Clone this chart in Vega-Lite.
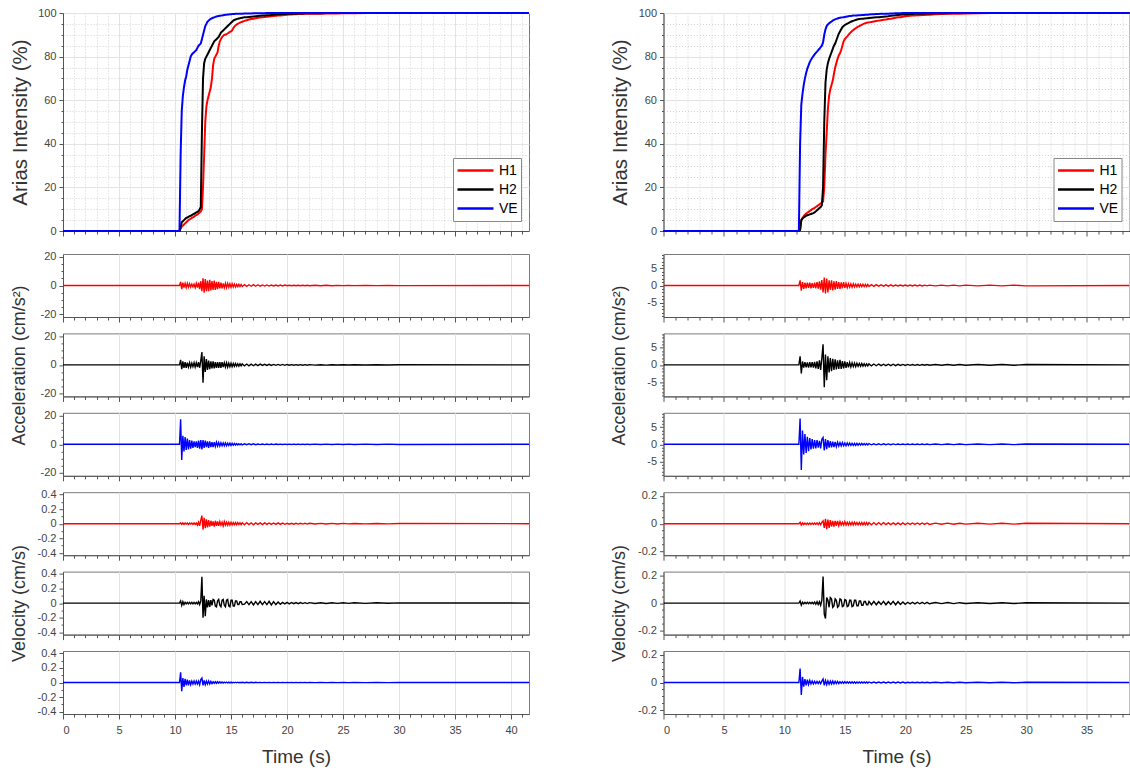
{
"$schema": "https://vega.github.io/schema/vega-lite/v6.json",
"padding": {"left": 9, "top": 6, "right": 0, "bottom": 5},
"datasets": {
"L": [
{"t":0,"H1":0,"H2":0,"VE":0,"a1":0,"a2":0,"a3":0,"v1":0,"v2":0,"v3":0},
{"t":10.4,"H1":0,"H2":0,"VE":0,"a1":0,"a2":0,"a3":0,"v1":0,"v2":0,"v3":0},
{"t":10.5,"H1":1,"H2":2,"VE":35,"a1":2.5,"a2":3.5,"a3":17.5,"v1":0.01,"v2":0.03,"v3":0.14},
{"t":10.6,"H1":2,"H2":4,"VE":55,"a1":-2.5,"a2":-3,"a3":-11,"v1":-0.01,"v2":-0.03,"v3":-0.12},
{"t":10.7,"H1":2.5,"H2":4.5,"VE":62,"a1":2,"a2":2.5,"a3":6,"v1":0.01,"v2":0.02,"v3":0.06},
{"t":10.8,"H1":3,"H2":5,"VE":66,"a1":-1.5,"a2":-2,"a3":-5,"v1":-0.01,"v2":-0.02,"v3":-0.06},
{"t":10.9,"H1":3.5,"H2":5.5,"VE":69,"a1":1.5,"a2":2,"a3":5,"v1":0.01,"v2":0.01,"v3":0.05},
{"t":11.0,"H1":4,"H2":6,"VE":71,"a1":-1.5,"a2":-2,"a3":-4,"v1":-0.005,"v2":-0.01,"v3":-0.04},
{"t":11.1,"H1":4.5,"H2":6.2,"VE":74,"a1":1.5,"a2":1.5,"a3":4,"v1":0.01,"v2":0.01,"v3":0.04},
{"t":11.2,"H1":5,"H2":6.5,"VE":76,"a1":-1.2,"a2":-1.5,"a3":-3.5,"v1":-0.01,"v2":-0.01,"v3":-0.04},
{"t":11.3,"H1":5.3,"H2":6.8,"VE":78,"a1":1.2,"a2":1.5,"a3":3,"v1":0.01,"v2":0.01,"v3":0.03},
{"t":11.4,"H1":5.6,"H2":7,"VE":80,"a1":-1,"a2":-1.5,"a3":-3,"v1":-0.005,"v2":-0.01,"v3":-0.03},
{"t":11.5,"H1":6,"H2":7.3,"VE":81,"a1":1,"a2":1.2,"a3":2.5,"v1":0.01,"v2":0.01,"v3":0.02},
{"t":11.6,"H1":6.3,"H2":7.6,"VE":81.5,"a1":-1,"a2":-1.2,"a3":-2.5,"v1":-0.01,"v2":-0.01,"v3":-0.02},
{"t":11.7,"H1":6.6,"H2":7.9,"VE":82,"a1":1,"a2":1.5,"a3":2,"v1":0.01,"v2":0.01,"v3":0.02},
{"t":11.8,"H1":7,"H2":8.2,"VE":82.5,"a1":-1.5,"a2":-1.5,"a3":-2,"v1":-0.01,"v2":-0.01,"v3":-0.02},
{"t":11.9,"H1":7.3,"H2":8.5,"VE":83,"a1":1.5,"a2":1.5,"a3":2,"v1":0.01,"v2":0.01,"v3":0.02},
{"t":12.0,"H1":7.6,"H2":8.8,"VE":84,"a1":-1.5,"a2":-1.5,"a3":-2.5,"v1":-0.02,"v2":-0.01,"v3":-0.02},
{"t":12.1,"H1":8,"H2":9.2,"VE":85,"a1":2,"a2":2,"a3":2.5,"v1":0.02,"v2":0.02,"v3":0.02},
{"t":12.2,"H1":8.5,"H2":10,"VE":85.5,"a1":-2.5,"a2":-2,"a3":-3,"v1":-0.03,"v2":-0.02,"v3":-0.03},
{"t":12.3,"H1":9,"H2":11,"VE":86,"a1":3,"a2":3,"a3":3,"v1":0.05,"v2":0.03,"v3":0.04},
{"t":12.4,"H1":10,"H2":45,"VE":88,"a1":-4,"a2":9,"a3":-3.5,"v1":0.11,"v2":0.36,"v3":0.06},
{"t":12.5,"H1":20,"H2":70,"VE":90,"a1":5,"a2":-12.5,"a3":3,"v1":-0.08,"v2":-0.2,"v3":-0.04},
{"t":12.6,"H1":35,"H2":77,"VE":92,"a1":-5,"a2":6,"a3":-2.5,"v1":0.08,"v2":0.1,"v3":0.03},
{"t":12.7,"H1":50,"H2":79,"VE":94,"a1":4.5,"a2":-5,"a3":2.5,"v1":-0.06,"v2":-0.18,"v3":-0.03},
{"t":12.8,"H1":57,"H2":80,"VE":95,"a1":-4,"a2":4,"a3":-2,"v1":0.06,"v2":0.05,"v3":0.02},
{"t":12.9,"H1":60,"H2":81,"VE":96,"a1":3.5,"a2":-3.5,"a3":2,"v1":-0.05,"v2":-0.06,"v3":-0.02},
{"t":13.0,"H1":62,"H2":82,"VE":96.5,"a1":-4,"a2":3,"a3":-2.5,"v1":0.05,"v2":0.04,"v3":0.02},
{"t":13.1,"H1":64,"H2":83,"VE":97,"a1":4,"a2":-3,"a3":2,"v1":-0.04,"v2":-0.05,"v3":-0.02},
{"t":13.2,"H1":66,"H2":84,"VE":97.3,"a1":-3.5,"a2":2.5,"a3":-2,"v1":0.04,"v2":0.04,"v3":0.015},
{"t":13.3,"H1":70,"H2":85,"VE":97.6,"a1":3,"a2":-2.5,"a3":1.5,"v1":-0.03,"v2":-0.03,"v3":-0.015},
{"t":13.4,"H1":76,"H2":86,"VE":97.8,"a1":-3,"a2":2.5,"a3":-2,"v1":0.03,"v2":0.05,"v3":0.01},
{"t":13.5,"H1":79,"H2":87,"VE":98,"a1":3.5,"a2":-2.5,"a3":1.5,"v1":-0.04,"v2":0.04,"v3":-0.01},
{"t":13.6,"H1":80,"H2":87.5,"VE":98.2,"a1":-3,"a2":2,"a3":-1.5,"v1":0.04,"v2":-0.04,"v3":0.01},
{"t":13.7,"H1":81,"H2":88,"VE":98.4,"a1":2.5,"a2":-2,"a3":1.5,"v1":-0.03,"v2":-0.05,"v3":-0.01},
{"t":13.8,"H1":82,"H2":88.5,"VE":98.5,"a1":-2.5,"a2":2,"a3":-1.2,"v1":0.03,"v2":0.03,"v3":0.01},
{"t":13.9,"H1":85,"H2":89,"VE":98.6,"a1":2.5,"a2":-2,"a3":1.2,"v1":-0.03,"v2":0.05,"v3":-0.01},
{"t":14.0,"H1":87,"H2":90,"VE":98.7,"a1":-2,"a2":2,"a3":-1.2,"v1":0.03,"v2":-0.03,"v3":0.008},
{"t":14.1,"H1":88,"H2":91,"VE":98.8,"a1":2,"a2":-2,"a3":1,"v1":-0.02,"v2":-0.05,"v3":-0.008},
{"t":14.2,"H1":89,"H2":91.5,"VE":98.9,"a1":-2,"a2":2,"a3":-1,"v1":0.02,"v2":0.04,"v3":0.008},
{"t":14.3,"H1":89.5,"H2":92,"VE":99,"a1":1.5,"a2":-1.5,"a3":1,"v1":-0.03,"v2":0.05,"v3":-0.008},
{"t":14.4,"H1":90,"H2":92.5,"VE":99.1,"a1":-1.5,"a2":1.5,"a3":-1,"v1":0.03,"v2":-0.03,"v3":0.006},
{"t":14.5,"H1":90,"H2":93,"VE":99.2,"a1":1.5,"a2":-1.5,"a3":1,"v1":-0.02,"v2":-0.05,"v3":-0.006},
{"t":14.6,"H1":90.3,"H2":93.5,"VE":99.2,"a1":-1.5,"a2":1.5,"a3":-1,"v1":0.02,"v2":0.04,"v3":0.006},
{"t":14.7,"H1":90.6,"H2":94,"VE":99.3,"a1":1.5,"a2":-1.5,"a3":0.8,"v1":-0.02,"v2":0.05,"v3":-0.006},
{"t":14.8,"H1":91,"H2":94.5,"VE":99.3,"a1":-1.2,"a2":1.2,"a3":-0.8,"v1":0.02,"v2":-0.04,"v3":0.005},
{"t":14.9,"H1":91.3,"H2":95,"VE":99.4,"a1":1.2,"a2":-1.2,"a3":0.8,"v1":-0.02,"v2":-0.05,"v3":-0.005},
{"t":15.0,"H1":91.6,"H2":95.5,"VE":99.4,"a1":-1.2,"a2":1.2,"a3":-0.8,"v1":0.02,"v2":0.04,"v3":0.005},
{"t":15.1,"H1":92,"H2":96,"VE":99.5,"a1":1.2,"a2":-1.2,"a3":0.6,"v1":-0.015,"v2":0.04,"v3":-0.005},
{"t":15.2,"H1":93,"H2":96.5,"VE":99.5,"a1":-1,"a2":1,"a3":-0.6,"v1":0.015,"v2":-0.04,"v3":0.004},
{"t":15.3,"H1":93.8,"H2":96.8,"VE":99.5,"a1":1,"a2":-1,"a3":0.6,"v1":-0.015,"v2":-0.04,"v3":-0.004},
{"t":15.4,"H1":94.3,"H2":97,"VE":99.6,"a1":-1,"a2":1,"a3":-0.5,"v1":0.015,"v2":0.03,"v3":0.004},
{"t":15.5,"H1":94.7,"H2":97.2,"VE":99.6,"a1":0.8,"a2":-0.8,"a3":0.5,"v1":-0.015,"v2":0.03,"v3":-0.004},
{"t":15.6,"H1":95,"H2":97.4,"VE":99.6,"a1":-0.8,"a2":0.8,"a3":-0.5,"v1":0.015,"v2":-0.02,"v3":0.004},
{"t":15.7,"H1":95.3,"H2":97.5,"VE":99.7,"a1":0.8,"a2":-0.8,"a3":0.4,"v1":-0.012,"v2":-0.02,"v3":-0.004},
{"t":15.8,"H1":95.6,"H2":97.6,"VE":99.7,"a1":-0.7,"a2":0.8,"a3":-0.4,"v1":0.012,"v2":0.02,"v3":0.003},
{"t":15.9,"H1":95.8,"H2":97.7,"VE":99.7,"a1":0.7,"a2":-0.7,"a3":0.4,"v1":-0.012,"v2":0.02,"v3":-0.003},
{"t":16.0,"H1":96,"H2":97.8,"VE":99.7,"a1":-0.7,"a2":0.7,"a3":-0.4,"v1":0.012,"v2":-0.02,"v3":0.003},
{"t":16.2,"H1":96.4,"H2":98,"VE":99.8,"a1":0.6,"a2":-0.7,"a3":0.3,"v1":-0.015,"v2":-0.015,"v3":-0.003},
{"t":16.4,"H1":96.7,"H2":98.1,"VE":99.8,"a1":-0.6,"a2":0.6,"a3":-0.3,"v1":0.015,"v2":0.02,"v3":0.003},
{"t":16.6,"H1":97,"H2":98.2,"VE":99.8,"a1":0.5,"a2":-0.6,"a3":0.3,"v1":-0.012,"v2":-0.02,"v3":-0.003},
{"t":16.8,"H1":97.2,"H2":98.3,"VE":99.8,"a1":-0.5,"a2":0.5,"a3":-0.3,"v1":0.012,"v2":0.02,"v3":0.003},
{"t":17.0,"H1":97.4,"H2":98.4,"VE":99.9,"a1":0.6,"a2":-0.6,"a3":0.3,"v1":-0.015,"v2":-0.025,"v3":-0.003},
{"t":17.2,"H1":97.6,"H2":98.5,"VE":99.9,"a1":-0.5,"a2":0.5,"a3":-0.3,"v1":0.012,"v2":0.02,"v3":0.003},
{"t":17.4,"H1":97.8,"H2":98.6,"VE":99.9,"a1":0.5,"a2":-0.5,"a3":0.2,"v1":-0.01,"v2":-0.02,"v3":-0.002},
{"t":17.6,"H1":97.9,"H2":98.7,"VE":99.9,"a1":-0.5,"a2":0.5,"a3":-0.2,"v1":0.01,"v2":0.025,"v3":0.002},
{"t":17.8,"H1":98,"H2":98.8,"VE":99.9,"a1":0.4,"a2":-0.4,"a3":0.2,"v1":-0.012,"v2":-0.02,"v3":-0.002},
{"t":18.0,"H1":98.2,"H2":98.9,"VE":99.9,"a1":-0.4,"a2":0.4,"a3":-0.2,"v1":0.01,"v2":0.02,"v3":0.002},
{"t":18.2,"H1":98.3,"H2":99,"VE":100,"a1":0.4,"a2":-0.4,"a3":0.2,"v1":-0.01,"v2":-0.02,"v3":-0.002},
{"t":18.4,"H1":98.4,"H2":99,"VE":100,"a1":-0.4,"a2":0.4,"a3":-0.2,"v1":0.01,"v2":0.025,"v3":0.002},
{"t":18.6,"H1":98.5,"H2":99.1,"VE":100,"a1":0.3,"a2":-0.4,"a3":0.2,"v1":-0.01,"v2":-0.025,"v3":-0.002},
{"t":18.8,"H1":98.6,"H2":99.2,"VE":100,"a1":-0.3,"a2":0.3,"a3":-0.2,"v1":0.01,"v2":0.02,"v3":0.002},
{"t":19.0,"H1":98.7,"H2":99.3,"VE":100,"a1":0.3,"a2":-0.3,"a3":0.2,"v1":-0.01,"v2":-0.02,"v3":-0.002},
{"t":19.2,"H1":98.8,"H2":99.4,"VE":100,"a1":-0.3,"a2":0.3,"a3":-0.1,"v1":0.012,"v2":0.015,"v3":0.002},
{"t":19.4,"H1":98.9,"H2":99.4,"VE":100,"a1":0.3,"a2":-0.3,"a3":0.1,"v1":-0.01,"v2":-0.015,"v3":-0.002},
{"t":19.6,"H1":99,"H2":99.5,"VE":100,"a1":-0.3,"a2":0.3,"a3":-0.1,"v1":0.008,"v2":0.01,"v3":0.002},
{"t":19.8,"H1":99.1,"H2":99.5,"VE":100,"a1":0.3,"a2":-0.3,"a3":0.1,"v1":-0.008,"v2":-0.01,"v3":-0.002},
{"t":20.0,"H1":99.2,"H2":99.6,"VE":100,"a1":-0.2,"a2":0.3,"a3":-0.1,"v1":0.006,"v2":0.01,"v3":0.002},
{"t":20.2,"H1":99.3,"H2":99.6,"VE":100,"a1":0.2,"a2":-0.2,"a3":0.1,"v1":-0.006,"v2":-0.01,"v3":-0.002},
{"t":20.4,"H1":99.3,"H2":99.7,"VE":100,"a1":-0.2,"a2":0.2,"a3":-0.1,"v1":0.006,"v2":0.008,"v3":0.002},
{"t":20.6,"H1":99.4,"H2":99.7,"VE":100,"a1":0.2,"a2":-0.2,"a3":0.1,"v1":-0.006,"v2":-0.008,"v3":-0.002},
{"t":20.8,"H1":99.4,"H2":99.7,"VE":100,"a1":-0.2,"a2":0.2,"a3":-0.1,"v1":0.005,"v2":0.008,"v3":0.002},
{"t":21.0,"H1":99.5,"H2":99.8,"VE":100,"a1":0.2,"a2":-0.2,"a3":0.1,"v1":-0.005,"v2":-0.008,"v3":-0.002},
{"t":21.2,"H1":99.5,"H2":99.8,"VE":100,"a1":-0.2,"a2":0.2,"a3":-0.1,"v1":0.005,"v2":0.008,"v3":0.002},
{"t":21.4,"H1":99.5,"H2":99.8,"VE":100,"a1":0.2,"a2":-0.2,"a3":0.1,"v1":-0.005,"v2":-0.006,"v3":-0.002},
{"t":21.6,"H1":99.6,"H2":99.9,"VE":100,"a1":-0.2,"a2":0.2,"a3":-0.1,"v1":0.005,"v2":0.006,"v3":0.002},
{"t":21.8,"H1":99.6,"H2":99.9,"VE":100,"a1":0.2,"a2":-0.2,"a3":0.1,"v1":-0.005,"v2":-0.006,"v3":-0.002},
{"t":22.0,"H1":99.6,"H2":99.9,"VE":100,"a1":-0.2,"a2":0.2,"a3":-0.1,"v1":0.005,"v2":0.006,"v3":0.002},
{"t":22.5,"H1":99.7,"H2":99.9,"VE":100,"a1":0.15,"a2":-0.15,"a3":0.1,"v1":-0.004,"v2":-0.005,"v3":-0.002},
{"t":23.0,"H1":99.7,"H2":99.9,"VE":100,"a1":-0.15,"a2":0.15,"a3":-0.1,"v1":0.004,"v2":0.005,"v3":0.002},
{"t":23.5,"H1":99.8,"H2":100,"VE":100,"a1":0.15,"a2":-0.15,"a3":0.1,"v1":-0.004,"v2":-0.005,"v3":-0.002},
{"t":24.0,"H1":99.8,"H2":100,"VE":100,"a1":-0.15,"a2":0.15,"a3":-0.1,"v1":0.004,"v2":0.005,"v3":0.002},
{"t":24.5,"H1":99.8,"H2":100,"VE":100,"a1":0.1,"a2":-0.1,"a3":0.1,"v1":-0.004,"v2":-0.004,"v3":-0.002},
{"t":25.0,"H1":99.9,"H2":100,"VE":100,"a1":-0.1,"a2":0.1,"a3":-0.1,"v1":0.004,"v2":0.004,"v3":0.002},
{"t":25.5,"H1":99.9,"H2":100,"VE":100,"a1":0.1,"a2":-0.1,"a3":0.1,"v1":-0.003,"v2":-0.004,"v3":-0.002},
{"t":26.0,"H1":99.9,"H2":100,"VE":100,"a1":-0.1,"a2":0.1,"a3":-0.1,"v1":0.003,"v2":0.004,"v3":0.002},
{"t":27.0,"H1":100,"H2":100,"VE":100,"a1":0.1,"a2":-0.1,"a3":0.1,"v1":-0.003,"v2":-0.004,"v3":-0.002},
{"t":28.0,"H1":100,"H2":100,"VE":100,"a1":-0.1,"a2":0.1,"a3":-0.1,"v1":0.003,"v2":0.004,"v3":0.002},
{"t":29.0,"H1":100,"H2":100,"VE":100,"a1":0.1,"a2":-0.1,"a3":0.1,"v1":-0.003,"v2":-0.003,"v3":-0.002},
{"t":30.0,"H1":100,"H2":100,"VE":100,"a1":-0.1,"a2":0.1,"a3":-0.1,"v1":0.003,"v2":0.003,"v3":0.002},
{"t":41.6,"H1":100,"H2":100,"VE":100,"a1":0,"a2":0,"a3":0,"v1":0,"v2":0,"v3":0}
],
"R": [
{"t":0,"H1":0,"H2":0,"VE":0,"a1":0,"a2":0,"a3":0,"v1":0,"v2":0,"v3":0},
{"t":11.2,"H1":0,"H2":0,"VE":0,"a1":0,"a2":0,"a3":0,"v1":0,"v2":0,"v3":0},
{"t":11.3,"H1":0.5,"H2":0.5,"VE":40,"a1":1.5,"a2":2.5,"a3":7.5,"v1":0.01,"v2":0.015,"v3":0.1},
{"t":11.4,"H1":5,"H2":5,"VE":58,"a1":-1.5,"a2":-2.5,"a3":-7.5,"v1":-0.01,"v2":-0.015,"v3":-0.09},
{"t":11.5,"H1":6,"H2":5.8,"VE":63,"a1":1,"a2":1,"a3":4,"v1":0.006,"v2":0.006,"v3":0.04},
{"t":11.6,"H1":6.8,"H2":6.2,"VE":67,"a1":-1,"a2":-0.8,"a3":-3,"v1":-0.006,"v2":-0.006,"v3":-0.03},
{"t":11.7,"H1":7.5,"H2":6.6,"VE":70,"a1":0.8,"a2":0.8,"a3":3,"v1":0.005,"v2":0.005,"v3":0.025},
{"t":11.8,"H1":8,"H2":7,"VE":72.5,"a1":-0.8,"a2":-0.7,"a3":-2.5,"v1":-0.005,"v2":-0.005,"v3":-0.02},
{"t":11.9,"H1":8.4,"H2":7.2,"VE":74.5,"a1":0.8,"a2":0.7,"a3":2.2,"v1":0.005,"v2":0.005,"v3":0.02},
{"t":12.0,"H1":8.8,"H2":7.4,"VE":76,"a1":-0.7,"a2":-0.8,"a3":-2,"v1":-0.005,"v2":-0.005,"v3":-0.015},
{"t":12.1,"H1":9.2,"H2":7.6,"VE":77.5,"a1":0.8,"a2":0.8,"a3":1.8,"v1":0.005,"v2":0.005,"v3":0.015},
{"t":12.2,"H1":9.6,"H2":7.8,"VE":78.5,"a1":-0.8,"a2":-0.7,"a3":-1.5,"v1":-0.005,"v2":-0.005,"v3":-0.01},
{"t":12.3,"H1":10,"H2":8,"VE":79.5,"a1":0.7,"a2":0.8,"a3":1.5,"v1":0.005,"v2":0.005,"v3":0.01},
{"t":12.4,"H1":10.3,"H2":8.2,"VE":80.2,"a1":-0.7,"a2":-0.8,"a3":-1.3,"v1":-0.005,"v2":-0.005,"v3":-0.01},
{"t":12.5,"H1":10.6,"H2":8.5,"VE":81,"a1":0.8,"a2":0.9,"a3":1.2,"v1":0.005,"v2":0.008,"v3":0.008},
{"t":12.6,"H1":11,"H2":9,"VE":81.7,"a1":-0.8,"a2":-1,"a3":-1.2,"v1":-0.005,"v2":-0.008,"v3":-0.008},
{"t":12.7,"H1":11.4,"H2":9.5,"VE":82.3,"a1":1,"a2":1,"a3":1.2,"v1":0.006,"v2":0.01,"v3":0.008},
{"t":12.8,"H1":11.8,"H2":10,"VE":83,"a1":-0.9,"a2":-1.2,"a3":-1,"v1":-0.006,"v2":-0.01,"v3":-0.008},
{"t":12.9,"H1":12.2,"H2":10.5,"VE":83.6,"a1":1.2,"a2":1.3,"a3":1,"v1":0.008,"v2":0.01,"v3":0.008},
{"t":13.0,"H1":12.6,"H2":11,"VE":84.3,"a1":-1.2,"a2":-1.5,"a3":-1.2,"v1":-0.008,"v2":-0.015,"v3":-0.008},
{"t":13.1,"H1":13,"H2":11.8,"VE":85,"a1":1.6,"a2":2,"a3":1.5,"v1":0.01,"v2":0.02,"v3":0.01},
{"t":13.2,"H1":13.5,"H2":20,"VE":86.5,"a1":-2,"a2":6,"a3":2,"v1":0.02,"v2":0.19,"v3":0.025},
{"t":13.3,"H1":20,"H2":50,"VE":90,"a1":2.3,"a2":-6.5,"a3":-1.8,"v1":-0.03,"v2":-0.08,"v3":-0.02},
{"t":13.4,"H1":35,"H2":68,"VE":92.5,"a1":-2.3,"a2":3,"a3":1.5,"v1":0.035,"v2":-0.11,"v3":0.015},
{"t":13.5,"H1":45,"H2":74,"VE":94,"a1":2,"a2":-4.5,"a3":-1.4,"v1":-0.04,"v2":0.04,"v3":-0.015},
{"t":13.6,"H1":56,"H2":77,"VE":94.8,"a1":-2,"a2":2.5,"a3":1.2,"v1":0.03,"v2":0.02,"v3":0.012},
{"t":13.7,"H1":62,"H2":79,"VE":95.3,"a1":1.5,"a2":-2.2,"a3":-1,"v1":-0.03,"v2":-0.03,"v3":-0.012},
{"t":13.8,"H1":65,"H2":80.5,"VE":95.7,"a1":-1.3,"a2":2,"a3":0.9,"v1":0.025,"v2":0.04,"v3":0.01},
{"t":13.9,"H1":67,"H2":82,"VE":96.1,"a1":1.5,"a2":-1.8,"a3":-0.9,"v1":-0.02,"v2":0.03,"v3":-0.01},
{"t":14.0,"H1":69,"H2":83.5,"VE":96.5,"a1":-1.4,"a2":1.8,"a3":0.8,"v1":0.02,"v2":-0.03,"v3":0.01},
{"t":14.1,"H1":72,"H2":85,"VE":96.8,"a1":1.2,"a2":-1.5,"a3":-0.8,"v1":-0.02,"v2":-0.02,"v3":-0.01},
{"t":14.2,"H1":75,"H2":86,"VE":97.1,"a1":-1.2,"a2":1.6,"a3":0.7,"v1":0.02,"v2":0.03,"v3":0.008},
{"t":14.3,"H1":77,"H2":87.5,"VE":97.3,"a1":1.3,"a2":-1.3,"a3":-0.7,"v1":-0.015,"v2":0.02,"v3":-0.008},
{"t":14.4,"H1":79,"H2":89,"VE":97.5,"a1":-1,"a2":1.3,"a3":0.6,"v1":0.02,"v2":-0.03,"v3":0.008},
{"t":14.5,"H1":80.5,"H2":90.5,"VE":97.7,"a1":1,"a2":-1.2,"a3":-0.5,"v1":-0.015,"v2":-0.02,"v3":-0.008},
{"t":14.6,"H1":81.5,"H2":91.5,"VE":97.8,"a1":-1,"a2":1.5,"a3":0.5,"v1":0.015,"v2":0.03,"v3":0.006},
{"t":14.7,"H1":83,"H2":92.5,"VE":97.9,"a1":0.9,"a2":-1.2,"a3":-0.5,"v1":-0.01,"v2":0.025,"v3":-0.006},
{"t":14.8,"H1":85,"H2":93.5,"VE":98,"a1":-0.8,"a2":1.1,"a3":0.5,"v1":0.01,"v2":-0.025,"v3":0.006},
{"t":14.9,"H1":87,"H2":94,"VE":98.1,"a1":1,"a2":-1,"a3":-0.4,"v1":-0.01,"v2":-0.02,"v3":-0.006},
{"t":15.0,"H1":88,"H2":94.5,"VE":98.2,"a1":-0.7,"a2":1,"a3":0.4,"v1":0.015,"v2":0.025,"v3":0.006},
{"t":15.1,"H1":88.7,"H2":94.8,"VE":98.3,"a1":0.6,"a2":-0.9,"a3":-0.4,"v1":-0.01,"v2":0.02,"v3":-0.005},
{"t":15.2,"H1":89.3,"H2":95.1,"VE":98.4,"a1":-0.6,"a2":0.8,"a3":0.4,"v1":0.01,"v2":-0.025,"v3":0.005},
{"t":15.3,"H1":90,"H2":95.4,"VE":98.5,"a1":0.5,"a2":-0.7,"a3":-0.35,"v1":-0.01,"v2":-0.02,"v3":-0.005},
{"t":15.4,"H1":90.6,"H2":95.7,"VE":98.6,"a1":-0.5,"a2":0.7,"a3":0.35,"v1":0.01,"v2":0.02,"v3":0.005},
{"t":15.5,"H1":91.2,"H2":96,"VE":98.6,"a1":0.5,"a2":-0.6,"a3":-0.3,"v1":-0.01,"v2":0.02,"v3":-0.005},
{"t":15.6,"H1":91.7,"H2":96.2,"VE":98.7,"a1":-0.5,"a2":0.6,"a3":0.3,"v1":0.01,"v2":-0.025,"v3":0.005},
{"t":15.7,"H1":92.2,"H2":96.4,"VE":98.8,"a1":0.5,"a2":-0.5,"a3":-0.3,"v1":-0.01,"v2":-0.02,"v3":-0.005},
{"t":15.8,"H1":92.6,"H2":96.6,"VE":98.8,"a1":-0.4,"a2":0.5,"a3":0.3,"v1":0.01,"v2":0.02,"v3":0.005},
{"t":15.9,"H1":93,"H2":96.8,"VE":98.9,"a1":0.4,"a2":-0.5,"a3":-0.3,"v1":-0.008,"v2":0.02,"v3":-0.005},
{"t":16.0,"H1":93.4,"H2":97,"VE":98.9,"a1":-0.4,"a2":0.5,"a3":0.3,"v1":0.008,"v2":-0.02,"v3":0.004},
{"t":16.1,"H1":93.7,"H2":97.1,"VE":99,"a1":0.4,"a2":-0.4,"a3":-0.25,"v1":-0.008,"v2":-0.02,"v3":-0.004},
{"t":16.2,"H1":94,"H2":97.2,"VE":99,"a1":-0.4,"a2":0.4,"a3":0.25,"v1":0.008,"v2":0.015,"v3":0.004},
{"t":16.3,"H1":94.3,"H2":97.3,"VE":99,"a1":0.35,"a2":-0.4,"a3":-0.25,"v1":-0.008,"v2":0.015,"v3":-0.004},
{"t":16.4,"H1":94.6,"H2":97.4,"VE":99.1,"a1":-0.35,"a2":0.4,"a3":0.25,"v1":0.008,"v2":-0.015,"v3":0.004},
{"t":16.5,"H1":94.9,"H2":97.4,"VE":99.1,"a1":0.35,"a2":-0.35,"a3":-0.2,"v1":-0.008,"v2":-0.015,"v3":-0.004},
{"t":16.6,"H1":95.1,"H2":97.5,"VE":99.1,"a1":-0.3,"a2":0.35,"a3":0.2,"v1":0.008,"v2":0.012,"v3":0.004},
{"t":16.7,"H1":95.3,"H2":97.5,"VE":99.2,"a1":0.3,"a2":-0.35,"a3":-0.2,"v1":-0.008,"v2":0.012,"v3":-0.004},
{"t":16.8,"H1":95.5,"H2":97.6,"VE":99.2,"a1":-0.3,"a2":0.3,"a3":0.2,"v1":0.008,"v2":-0.012,"v3":0.004},
{"t":16.9,"H1":95.6,"H2":97.6,"VE":99.2,"a1":0.3,"a2":-0.3,"a3":-0.2,"v1":-0.008,"v2":-0.012,"v3":-0.004},
{"t":17.0,"H1":95.7,"H2":97.7,"VE":99.3,"a1":-0.3,"a2":0.3,"a3":0.2,"v1":0.008,"v2":0.012,"v3":0.004},
{"t":17.2,"H1":95.9,"H2":97.8,"VE":99.4,"a1":0.25,"a2":-0.3,"a3":-0.15,"v1":-0.008,"v2":-0.012,"v3":-0.003},
{"t":17.4,"H1":96.1,"H2":97.9,"VE":99.4,"a1":-0.25,"a2":0.25,"a3":0.15,"v1":0.008,"v2":0.012,"v3":0.003},
{"t":17.6,"H1":96.3,"H2":98,"VE":99.5,"a1":0.25,"a2":-0.25,"a3":-0.15,"v1":-0.008,"v2":-0.012,"v3":-0.003},
{"t":17.8,"H1":96.5,"H2":98.1,"VE":99.5,"a1":-0.2,"a2":0.25,"a3":0.15,"v1":0.008,"v2":0.01,"v3":0.003},
{"t":18.0,"H1":96.7,"H2":98.2,"VE":99.6,"a1":0.2,"a2":-0.2,"a3":-0.15,"v1":-0.008,"v2":-0.01,"v3":-0.003},
{"t":18.2,"H1":96.9,"H2":98.3,"VE":99.6,"a1":-0.2,"a2":0.2,"a3":0.15,"v1":0.008,"v2":0.012,"v3":0.003},
{"t":18.4,"H1":97,"H2":98.4,"VE":99.7,"a1":0.2,"a2":-0.2,"a3":-0.12,"v1":-0.006,"v2":-0.012,"v3":-0.003},
{"t":18.6,"H1":97.2,"H2":98.5,"VE":99.7,"a1":-0.2,"a2":0.2,"a3":0.12,"v1":0.006,"v2":0.01,"v3":0.003},
{"t":18.8,"H1":97.4,"H2":98.7,"VE":99.8,"a1":0.2,"a2":-0.2,"a3":-0.12,"v1":-0.006,"v2":-0.01,"v3":-0.003},
{"t":19.0,"H1":97.6,"H2":98.8,"VE":99.8,"a1":-0.2,"a2":0.2,"a3":0.12,"v1":0.006,"v2":0.012,"v3":0.003},
{"t":19.2,"H1":97.8,"H2":99,"VE":99.9,"a1":0.15,"a2":-0.2,"a3":-0.1,"v1":-0.006,"v2":-0.012,"v3":-0.003},
{"t":19.4,"H1":98,"H2":99.1,"VE":99.9,"a1":-0.15,"a2":0.15,"a3":0.1,"v1":0.006,"v2":0.01,"v3":0.003},
{"t":19.6,"H1":98.1,"H2":99.2,"VE":99.9,"a1":0.15,"a2":-0.15,"a3":-0.1,"v1":-0.006,"v2":-0.01,"v3":-0.003},
{"t":19.8,"H1":98.3,"H2":99.3,"VE":100,"a1":-0.15,"a2":0.15,"a3":0.1,"v1":0.006,"v2":0.008,"v3":0.003},
{"t":20.0,"H1":98.5,"H2":99.3,"VE":100,"a1":0.15,"a2":-0.15,"a3":-0.1,"v1":-0.006,"v2":-0.008,"v3":-0.003},
{"t":20.2,"H1":98.6,"H2":99.4,"VE":100,"a1":-0.15,"a2":0.15,"a3":0.1,"v1":0.005,"v2":0.006,"v3":0.002},
{"t":20.4,"H1":98.7,"H2":99.5,"VE":100,"a1":0.12,"a2":-0.12,"a3":-0.1,"v1":-0.005,"v2":-0.006,"v3":-0.002},
{"t":20.6,"H1":98.8,"H2":99.5,"VE":100,"a1":-0.12,"a2":0.12,"a3":0.1,"v1":0.005,"v2":0.006,"v3":0.002},
{"t":20.8,"H1":98.9,"H2":99.6,"VE":100,"a1":0.12,"a2":-0.12,"a3":-0.1,"v1":-0.005,"v2":-0.006,"v3":-0.002},
{"t":21.0,"H1":99,"H2":99.6,"VE":100,"a1":-0.12,"a2":0.12,"a3":0.1,"v1":0.005,"v2":0.006,"v3":0.002},
{"t":21.2,"H1":99,"H2":99.7,"VE":100,"a1":0.12,"a2":-0.12,"a3":-0.1,"v1":-0.005,"v2":-0.005,"v3":-0.002},
{"t":21.4,"H1":99.1,"H2":99.7,"VE":100,"a1":-0.12,"a2":0.12,"a3":0.1,"v1":0.005,"v2":0.005,"v3":0.002},
{"t":21.6,"H1":99.1,"H2":99.8,"VE":100,"a1":0.1,"a2":-0.1,"a3":-0.1,"v1":-0.005,"v2":-0.005,"v3":-0.002},
{"t":21.8,"H1":99.2,"H2":99.8,"VE":100,"a1":-0.1,"a2":0.1,"a3":0.1,"v1":0.005,"v2":0.005,"v3":0.002},
{"t":22.0,"H1":99.2,"H2":99.8,"VE":100,"a1":0.1,"a2":-0.1,"a3":-0.1,"v1":-0.005,"v2":-0.005,"v3":-0.002},
{"t":22.5,"H1":99.4,"H2":99.9,"VE":100,"a1":-0.1,"a2":0.1,"a3":0.1,"v1":0.004,"v2":0.004,"v3":0.002},
{"t":23.0,"H1":99.5,"H2":99.9,"VE":100,"a1":0.1,"a2":-0.1,"a3":-0.1,"v1":-0.004,"v2":-0.004,"v3":-0.002},
{"t":23.5,"H1":99.6,"H2":99.9,"VE":100,"a1":-0.1,"a2":0.1,"a3":0.1,"v1":0.004,"v2":0.004,"v3":0.002},
{"t":24.0,"H1":99.7,"H2":100,"VE":100,"a1":0.1,"a2":-0.1,"a3":-0.1,"v1":-0.004,"v2":-0.004,"v3":-0.002},
{"t":24.5,"H1":99.7,"H2":100,"VE":100,"a1":-0.1,"a2":0.1,"a3":0.1,"v1":0.003,"v2":0.003,"v3":0.002},
{"t":25.0,"H1":99.8,"H2":100,"VE":100,"a1":0.1,"a2":-0.1,"a3":-0.1,"v1":-0.003,"v2":-0.003,"v3":-0.002},
{"t":26.0,"H1":99.9,"H2":100,"VE":100,"a1":-0.1,"a2":0.1,"a3":0.1,"v1":0.003,"v2":0.003,"v3":0.002},
{"t":27.0,"H1":100,"H2":100,"VE":100,"a1":0.1,"a2":-0.1,"a3":-0.1,"v1":-0.003,"v2":-0.003,"v3":-0.002},
{"t":28.0,"H1":100,"H2":100,"VE":100,"a1":-0.1,"a2":0.1,"a3":0.1,"v1":0.003,"v2":0.003,"v3":0.002},
{"t":29.0,"H1":100,"H2":100,"VE":100,"a1":0.1,"a2":-0.1,"a3":-0.1,"v1":-0.003,"v2":-0.003,"v3":-0.002},
{"t":30.0,"H1":100,"H2":100,"VE":100,"a1":-0.1,"a2":0.1,"a3":0.1,"v1":0.003,"v2":0.003,"v3":0.002},
{"t":38.55,"H1":100,"H2":100,"VE":100,"a1":0,"a2":0,"a3":0,"v1":0,"v2":0,"v3":0}
]
},
"bounds": "full",
"spacing": 75.5,
"resolve": {"scale": {"color": "independent"}, "legend": {"color": "independent"}},
"hconcat": [
{
"bounds": "flush", "spacing": 23,
"resolve": {"scale": {"color": "independent"}, "legend": {"color": "independent"}},
"vconcat": [
{"width": 466, "height": 218, "data": {"name": "L"},
 "layer": [
  {"mark": {"type": "line", "opacity": 0},
   "encoding": {
    "x": {"field": "t", "type": "quantitative", "scale": {"domain": [0, 41.6], "nice": false, "zero": false}, "axis": {"orient": "bottom", "values": [1,2,3,4,6,7,8,9,11,12,13,14,16,17,18,19,21,22,23,24,26,27,28,29,31,32,33,34,36,37,38,39,41], "labels": false, "domain": false, "tickSize": 3, "grid": true, "gridDash": [1,2], "gridColor": "#d2d2d2", "title": null}},
    "y": {"field": "H1", "type": "quantitative", "scale": {"domain": [0, 100], "nice": false}, "axis": {"orient": "left", "values": [5,10,15,25,30,35,45,50,55,65,70,75,85,90,95], "labels": false, "domain": false, "tickSize": 2, "grid": true, "gridDash": [1,2], "gridColor": "#d2d2d2", "title": null}}}},
  {"transform": [{"fold": ["H1", "H2", "VE"], "as": ["ch", "val"]}],
   "mark": {"type": "line", "strokeWidth": 2},
   "encoding": {
    "x": {"field": "t", "type": "quantitative", "scale": {"domain": [0, 41.6], "nice": false, "zero": false}, "axis": {"orient": "bottom", "values": [0,5,10,15,20,25,30,35,40], "labels": false, "tickSize": 5, "grid": true, "title": null}},
    "y": {"field": "val", "type": "quantitative", "scale": {"domain": [0, 100], "nice": false}, "axis": {"orient": "left", "values": [0,20,40,60,80,100], "tickSize": 4, "grid": true, "format": ".2~f", "title": "Arias Intensity (%)", "titleFontSize": 20.5, "titleX": -33}},
    "color": {"field": "ch", "type": "nominal", "scale": {"domain": ["H1", "H2", "VE"], "range": ["#ff0000", "#000000", "#0000ff"]},
      "legend": {"orient": "none", "legendX": 390, "legendY": 145, "title": null}}}}
 ],
 "resolve": {"axis": {"x": "independent", "y": "independent"}}
},
{"bounds": "flush", "spacing": 16.4,
 "vconcat": [
{"width": 466, "height": 63, "data": {"name": "L"},
 "layer": [
  {"mark": {"type": "line", "opacity": 0},
   "encoding": {
    "x": {"field": "t", "type": "quantitative", "scale": {"domain": [0, 41.6], "nice": false, "zero": false}, "axis": {"orient": "bottom", "values": [1,2,3,4,6,7,8,9,11,12,13,14,16,17,18,19,21,22,23,24,26,27,28,29,31,32,33,34,36,37,38,39,41], "labels": false, "domain": false, "tickSize": 3, "grid": false, "title": null}},
    "y": {"field": "a1", "type": "quantitative", "scale": {"domain": [-22, 22], "nice": false}, "axis": {"orient": "left", "values": [-15,-10,-5,5,10,15], "labels": false, "domain": false, "tickSize": 2, "grid": false, "title": null}}}},
  {"mark": {"type": "line", "color": "#ff0000", "strokeWidth": 1.4, "clip": true},
   "encoding": {
    "x": {"field": "t", "type": "quantitative", "scale": {"domain": [0, 41.6], "nice": false, "zero": false}, "axis": {"orient": "bottom", "values": [0,5,10,15,20,25,30,35,40], "labels": false, "tickSize": 5, "grid": true, "title": null}},
    "y": {"field": "a1", "type": "quantitative", "scale": {"domain": [-22, 22], "nice": false}, "axis": {"orient": "left", "values": [-20,0,20], "tickSize": 4, "grid": false, "format": ".2~f", "title": null}}}}
 ],
 "resolve": {"axis": {"x": "independent", "y": "independent"}}
},
{"width": 466, "height": 63, "data": {"name": "L"},
 "layer": [
  {"mark": {"type": "line", "opacity": 0},
   "encoding": {
    "x": {"field": "t", "type": "quantitative", "scale": {"domain": [0, 41.6], "nice": false, "zero": false}, "axis": {"orient": "bottom", "values": [1,2,3,4,6,7,8,9,11,12,13,14,16,17,18,19,21,22,23,24,26,27,28,29,31,32,33,34,36,37,38,39,41], "labels": false, "domain": false, "tickSize": 3, "grid": false, "title": null}},
    "y": {"field": "a2", "type": "quantitative", "scale": {"domain": [-22, 22], "nice": false}, "axis": {"orient": "left", "values": [-15,-10,-5,5,10,15], "labels": false, "domain": false, "tickSize": 2, "grid": false, "title": null}}}},
  {"mark": {"type": "line", "color": "#000000", "strokeWidth": 1.4, "clip": true},
   "encoding": {
    "x": {"field": "t", "type": "quantitative", "scale": {"domain": [0, 41.6], "nice": false, "zero": false}, "axis": {"orient": "bottom", "values": [0,5,10,15,20,25,30,35,40], "labels": false, "tickSize": 5, "grid": true, "title": null}},
    "y": {"field": "a2", "type": "quantitative", "scale": {"domain": [-22, 22], "nice": false}, "axis": {"orient": "left", "values": [-20,0,20], "tickSize": 4, "grid": false, "format": ".2~f", "title": "Acceleration (cm/s²)", "titleX": -35}}}}
 ],
 "resolve": {"axis": {"x": "independent", "y": "independent"}}
},
{"width": 466, "height": 63, "data": {"name": "L"},
 "layer": [
  {"mark": {"type": "line", "opacity": 0},
   "encoding": {
    "x": {"field": "t", "type": "quantitative", "scale": {"domain": [0, 41.6], "nice": false, "zero": false}, "axis": {"orient": "bottom", "values": [1,2,3,4,6,7,8,9,11,12,13,14,16,17,18,19,21,22,23,24,26,27,28,29,31,32,33,34,36,37,38,39,41], "labels": false, "domain": false, "tickSize": 3, "grid": false, "title": null}},
    "y": {"field": "a3", "type": "quantitative", "scale": {"domain": [-22, 22], "nice": false}, "axis": {"orient": "left", "values": [-15,-10,-5,5,10,15], "labels": false, "domain": false, "tickSize": 2, "grid": false, "title": null}}}},
  {"mark": {"type": "line", "color": "#0000ff", "strokeWidth": 1.4, "clip": true},
   "encoding": {
    "x": {"field": "t", "type": "quantitative", "scale": {"domain": [0, 41.6], "nice": false, "zero": false}, "axis": {"orient": "bottom", "values": [0,5,10,15,20,25,30,35,40], "labels": false, "tickSize": 5, "grid": true, "title": null}},
    "y": {"field": "a3", "type": "quantitative", "scale": {"domain": [-22, 22], "nice": false}, "axis": {"orient": "left", "values": [-20,0,20], "tickSize": 4, "grid": false, "format": ".2~f", "title": null}}}}
 ],
 "resolve": {"axis": {"x": "independent", "y": "independent"}}
},
{"width": 466, "height": 63, "data": {"name": "L"},
 "layer": [
  {"mark": {"type": "line", "opacity": 0},
   "encoding": {
    "x": {"field": "t", "type": "quantitative", "scale": {"domain": [0, 41.6], "nice": false, "zero": false}, "axis": {"orient": "bottom", "values": [1,2,3,4,6,7,8,9,11,12,13,14,16,17,18,19,21,22,23,24,26,27,28,29,31,32,33,34,36,37,38,39,41], "labels": false, "domain": false, "tickSize": 3, "grid": false, "title": null}},
    "y": {"field": "v1", "type": "quantitative", "scale": {"domain": [-0.43, 0.43], "nice": false}, "axis": {"orient": "left", "values": [-0.3,-0.1,0.1,0.3], "labels": false, "domain": false, "tickSize": 2, "grid": false, "title": null}}}},
  {"mark": {"type": "line", "color": "#ff0000", "strokeWidth": 1.4, "clip": true},
   "encoding": {
    "x": {"field": "t", "type": "quantitative", "scale": {"domain": [0, 41.6], "nice": false, "zero": false}, "axis": {"orient": "bottom", "values": [0,5,10,15,20,25,30,35,40], "labels": false, "tickSize": 5, "grid": true, "title": null}},
    "y": {"field": "v1", "type": "quantitative", "scale": {"domain": [-0.43, 0.43], "nice": false}, "axis": {"orient": "left", "values": [-0.4,-0.2,0,0.2,0.4], "tickSize": 4, "grid": false, "format": ".2~f", "title": null}}}}
 ],
 "resolve": {"axis": {"x": "independent", "y": "independent"}}
},
{"width": 466, "height": 63, "data": {"name": "L"},
 "layer": [
  {"mark": {"type": "line", "opacity": 0},
   "encoding": {
    "x": {"field": "t", "type": "quantitative", "scale": {"domain": [0, 41.6], "nice": false, "zero": false}, "axis": {"orient": "bottom", "values": [1,2,3,4,6,7,8,9,11,12,13,14,16,17,18,19,21,22,23,24,26,27,28,29,31,32,33,34,36,37,38,39,41], "labels": false, "domain": false, "tickSize": 3, "grid": false, "title": null}},
    "y": {"field": "v2", "type": "quantitative", "scale": {"domain": [-0.43, 0.43], "nice": false}, "axis": {"orient": "left", "values": [-0.3,-0.1,0.1,0.3], "labels": false, "domain": false, "tickSize": 2, "grid": false, "title": null}}}},
  {"mark": {"type": "line", "color": "#000000", "strokeWidth": 1.4, "clip": true},
   "encoding": {
    "x": {"field": "t", "type": "quantitative", "scale": {"domain": [0, 41.6], "nice": false, "zero": false}, "axis": {"orient": "bottom", "values": [0,5,10,15,20,25,30,35,40], "labels": false, "tickSize": 5, "grid": true, "title": null}},
    "y": {"field": "v2", "type": "quantitative", "scale": {"domain": [-0.43, 0.43], "nice": false}, "axis": {"orient": "left", "values": [-0.4,-0.2,0,0.2,0.4], "tickSize": 4, "grid": false, "format": ".2~f", "title": "Velocity (cm/s)", "titleX": -35}}}}
 ],
 "resolve": {"axis": {"x": "independent", "y": "independent"}}
},
{"width": 466, "height": 63, "data": {"name": "L"},
 "layer": [
  {"mark": {"type": "line", "opacity": 0},
   "encoding": {
    "x": {"field": "t", "type": "quantitative", "scale": {"domain": [0, 41.6], "nice": false, "zero": false}, "axis": {"orient": "bottom", "values": [1,2,3,4,6,7,8,9,11,12,13,14,16,17,18,19,21,22,23,24,26,27,28,29,31,32,33,34,36,37,38,39,41], "labels": false, "domain": false, "tickSize": 3, "grid": false, "title": null}},
    "y": {"field": "v3", "type": "quantitative", "scale": {"domain": [-0.43, 0.43], "nice": false}, "axis": {"orient": "left", "values": [-0.3,-0.1,0.1,0.3], "labels": false, "domain": false, "tickSize": 2, "grid": false, "title": null}}}},
  {"mark": {"type": "line", "color": "#0000ff", "strokeWidth": 1.4, "clip": true},
   "encoding": {
    "x": {"field": "t", "type": "quantitative", "scale": {"domain": [0, 41.6], "nice": false, "zero": false}, "axis": {"orient": "bottom", "values": [0,5,10,15,20,25,30,35,40], "labels": true, "labelPadding": 5, "tickSize": 5, "grid": true, "format": "d", "title": "Time (s)", "titleFontSize": 19, "titlePadding": 12}},
    "y": {"field": "v3", "type": "quantitative", "scale": {"domain": [-0.43, 0.43], "nice": false}, "axis": {"orient": "left", "values": [-0.4,-0.2,0,0.2,0.4], "tickSize": 4, "grid": false, "format": ".2~f", "title": null}}}}
 ],
 "resolve": {"axis": {"x": "independent", "y": "independent"}}
}
 ]}
]
},
{
"bounds": "flush", "spacing": 23,
"resolve": {"scale": {"color": "independent"}, "legend": {"color": "independent"}},
"vconcat": [
{"width": 466, "height": 218, "data": {"name": "R"},
 "layer": [
  {"mark": {"type": "line", "opacity": 0},
   "encoding": {
    "x": {"field": "t", "type": "quantitative", "scale": {"domain": [0, 38.55], "nice": false, "zero": false}, "axis": {"orient": "bottom", "values": [1,2,3,4,6,7,8,9,11,12,13,14,16,17,18,19,21,22,23,24,26,27,28,29,31,32,33,34,36,37,38], "labels": false, "domain": false, "tickSize": 3, "grid": true, "gridDash": [1,2], "gridColor": "#d2d2d2", "title": null}},
    "y": {"field": "H1", "type": "quantitative", "scale": {"domain": [0, 100], "nice": false}, "axis": {"orient": "left", "values": [5,10,15,25,30,35,45,50,55,65,70,75,85,90,95], "labels": false, "domain": false, "tickSize": 2, "grid": true, "gridDash": [1,2], "gridColor": "#d2d2d2", "title": null}}}},
  {"transform": [{"fold": ["H1", "H2", "VE"], "as": ["ch", "val"]}],
   "mark": {"type": "line", "strokeWidth": 2},
   "encoding": {
    "x": {"field": "t", "type": "quantitative", "scale": {"domain": [0, 38.55], "nice": false, "zero": false}, "axis": {"orient": "bottom", "values": [0,5,10,15,20,25,30,35], "labels": false, "tickSize": 5, "grid": true, "title": null}},
    "y": {"field": "val", "type": "quantitative", "scale": {"domain": [0, 100], "nice": false}, "axis": {"orient": "left", "values": [0,20,40,60,80,100], "tickSize": 4, "grid": true, "format": ".2~f", "title": "Arias Intensity (%)", "titleFontSize": 20.5, "titleX": -33}},
    "color": {"field": "ch", "type": "nominal", "scale": {"domain": ["H1", "H2", "VE"], "range": ["#ff0000", "#000000", "#0000ff"]},
      "legend": {"orient": "none", "legendX": 390, "legendY": 145, "title": null}}}}
 ],
 "resolve": {"axis": {"x": "independent", "y": "independent"}}
},
{"bounds": "flush", "spacing": 16.4,
 "vconcat": [
{"width": 466, "height": 63, "data": {"name": "R"},
 "layer": [
  {"mark": {"type": "line", "opacity": 0},
   "encoding": {
    "x": {"field": "t", "type": "quantitative", "scale": {"domain": [0, 38.55], "nice": false, "zero": false}, "axis": {"orient": "bottom", "values": [1,2,3,4,6,7,8,9,11,12,13,14,16,17,18,19,21,22,23,24,26,27,28,29,31,32,33,34,36,37,38], "labels": false, "domain": false, "tickSize": 3, "grid": false, "title": null}},
    "y": {"field": "a1", "type": "quantitative", "scale": {"domain": [-9.2, 9.2], "nice": false}, "axis": {"orient": "left", "values": [-9,-8,-7,-6,-4,-3,-2,-1,1,2,3,4,6,7,8,9], "labels": false, "domain": false, "tickSize": 2, "grid": false, "title": null}}}},
  {"mark": {"type": "line", "color": "#ff0000", "strokeWidth": 1.4, "clip": true},
   "encoding": {
    "x": {"field": "t", "type": "quantitative", "scale": {"domain": [0, 38.55], "nice": false, "zero": false}, "axis": {"orient": "bottom", "values": [0,5,10,15,20,25,30,35], "labels": false, "tickSize": 5, "grid": true, "title": null}},
    "y": {"field": "a1", "type": "quantitative", "scale": {"domain": [-9.2, 9.2], "nice": false}, "axis": {"orient": "left", "values": [-5,0,5], "tickSize": 4, "grid": false, "format": ".2~f", "title": null}}}}
 ],
 "resolve": {"axis": {"x": "independent", "y": "independent"}}
},
{"width": 466, "height": 63, "data": {"name": "R"},
 "layer": [
  {"mark": {"type": "line", "opacity": 0},
   "encoding": {
    "x": {"field": "t", "type": "quantitative", "scale": {"domain": [0, 38.55], "nice": false, "zero": false}, "axis": {"orient": "bottom", "values": [1,2,3,4,6,7,8,9,11,12,13,14,16,17,18,19,21,22,23,24,26,27,28,29,31,32,33,34,36,37,38], "labels": false, "domain": false, "tickSize": 3, "grid": false, "title": null}},
    "y": {"field": "a2", "type": "quantitative", "scale": {"domain": [-9.2, 9.2], "nice": false}, "axis": {"orient": "left", "values": [-9,-8,-7,-6,-4,-3,-2,-1,1,2,3,4,6,7,8,9], "labels": false, "domain": false, "tickSize": 2, "grid": false, "title": null}}}},
  {"mark": {"type": "line", "color": "#000000", "strokeWidth": 1.4, "clip": true},
   "encoding": {
    "x": {"field": "t", "type": "quantitative", "scale": {"domain": [0, 38.55], "nice": false, "zero": false}, "axis": {"orient": "bottom", "values": [0,5,10,15,20,25,30,35], "labels": false, "tickSize": 5, "grid": true, "title": null}},
    "y": {"field": "a2", "type": "quantitative", "scale": {"domain": [-9.2, 9.2], "nice": false}, "axis": {"orient": "left", "values": [-5,0,5], "tickSize": 4, "grid": false, "format": ".2~f", "title": "Acceleration (cm/s²)", "titleX": -35}}}}
 ],
 "resolve": {"axis": {"x": "independent", "y": "independent"}}
},
{"width": 466, "height": 63, "data": {"name": "R"},
 "layer": [
  {"mark": {"type": "line", "opacity": 0},
   "encoding": {
    "x": {"field": "t", "type": "quantitative", "scale": {"domain": [0, 38.55], "nice": false, "zero": false}, "axis": {"orient": "bottom", "values": [1,2,3,4,6,7,8,9,11,12,13,14,16,17,18,19,21,22,23,24,26,27,28,29,31,32,33,34,36,37,38], "labels": false, "domain": false, "tickSize": 3, "grid": false, "title": null}},
    "y": {"field": "a3", "type": "quantitative", "scale": {"domain": [-9.2, 9.2], "nice": false}, "axis": {"orient": "left", "values": [-9,-8,-7,-6,-4,-3,-2,-1,1,2,3,4,6,7,8,9], "labels": false, "domain": false, "tickSize": 2, "grid": false, "title": null}}}},
  {"mark": {"type": "line", "color": "#0000ff", "strokeWidth": 1.4, "clip": true},
   "encoding": {
    "x": {"field": "t", "type": "quantitative", "scale": {"domain": [0, 38.55], "nice": false, "zero": false}, "axis": {"orient": "bottom", "values": [0,5,10,15,20,25,30,35], "labels": false, "tickSize": 5, "grid": true, "title": null}},
    "y": {"field": "a3", "type": "quantitative", "scale": {"domain": [-9.2, 9.2], "nice": false}, "axis": {"orient": "left", "values": [-5,0,5], "tickSize": 4, "grid": false, "format": ".2~f", "title": null}}}}
 ],
 "resolve": {"axis": {"x": "independent", "y": "independent"}}
},
{"width": 466, "height": 63, "data": {"name": "R"},
 "layer": [
  {"mark": {"type": "line", "opacity": 0},
   "encoding": {
    "x": {"field": "t", "type": "quantitative", "scale": {"domain": [0, 38.55], "nice": false, "zero": false}, "axis": {"orient": "bottom", "values": [1,2,3,4,6,7,8,9,11,12,13,14,16,17,18,19,21,22,23,24,26,27,28,29,31,32,33,34,36,37,38], "labels": false, "domain": false, "tickSize": 3, "grid": false, "title": null}},
    "y": {"field": "v1", "type": "quantitative", "scale": {"domain": [-0.226, 0.226], "nice": false}, "axis": {"orient": "left", "values": [-0.15,-0.1,-0.05,0.05,0.1,0.15], "labels": false, "domain": false, "tickSize": 2, "grid": false, "title": null}}}},
  {"mark": {"type": "line", "color": "#ff0000", "strokeWidth": 1.4, "clip": true},
   "encoding": {
    "x": {"field": "t", "type": "quantitative", "scale": {"domain": [0, 38.55], "nice": false, "zero": false}, "axis": {"orient": "bottom", "values": [0,5,10,15,20,25,30,35], "labels": false, "tickSize": 5, "grid": true, "title": null}},
    "y": {"field": "v1", "type": "quantitative", "scale": {"domain": [-0.226, 0.226], "nice": false}, "axis": {"orient": "left", "values": [-0.2,0,0.2], "tickSize": 4, "grid": false, "format": ".2~f", "title": null}}}}
 ],
 "resolve": {"axis": {"x": "independent", "y": "independent"}}
},
{"width": 466, "height": 63, "data": {"name": "R"},
 "layer": [
  {"mark": {"type": "line", "opacity": 0},
   "encoding": {
    "x": {"field": "t", "type": "quantitative", "scale": {"domain": [0, 38.55], "nice": false, "zero": false}, "axis": {"orient": "bottom", "values": [1,2,3,4,6,7,8,9,11,12,13,14,16,17,18,19,21,22,23,24,26,27,28,29,31,32,33,34,36,37,38], "labels": false, "domain": false, "tickSize": 3, "grid": false, "title": null}},
    "y": {"field": "v2", "type": "quantitative", "scale": {"domain": [-0.226, 0.226], "nice": false}, "axis": {"orient": "left", "values": [-0.15,-0.1,-0.05,0.05,0.1,0.15], "labels": false, "domain": false, "tickSize": 2, "grid": false, "title": null}}}},
  {"mark": {"type": "line", "color": "#000000", "strokeWidth": 1.4, "clip": true},
   "encoding": {
    "x": {"field": "t", "type": "quantitative", "scale": {"domain": [0, 38.55], "nice": false, "zero": false}, "axis": {"orient": "bottom", "values": [0,5,10,15,20,25,30,35], "labels": false, "tickSize": 5, "grid": true, "title": null}},
    "y": {"field": "v2", "type": "quantitative", "scale": {"domain": [-0.226, 0.226], "nice": false}, "axis": {"orient": "left", "values": [-0.2,0,0.2], "tickSize": 4, "grid": false, "format": ".2~f", "title": "Velocity (cm/s)", "titleX": -35}}}}
 ],
 "resolve": {"axis": {"x": "independent", "y": "independent"}}
},
{"width": 466, "height": 63, "data": {"name": "R"},
 "layer": [
  {"mark": {"type": "line", "opacity": 0},
   "encoding": {
    "x": {"field": "t", "type": "quantitative", "scale": {"domain": [0, 38.55], "nice": false, "zero": false}, "axis": {"orient": "bottom", "values": [1,2,3,4,6,7,8,9,11,12,13,14,16,17,18,19,21,22,23,24,26,27,28,29,31,32,33,34,36,37,38], "labels": false, "domain": false, "tickSize": 3, "grid": false, "title": null}},
    "y": {"field": "v3", "type": "quantitative", "scale": {"domain": [-0.226, 0.226], "nice": false}, "axis": {"orient": "left", "values": [-0.15,-0.1,-0.05,0.05,0.1,0.15], "labels": false, "domain": false, "tickSize": 2, "grid": false, "title": null}}}},
  {"mark": {"type": "line", "color": "#0000ff", "strokeWidth": 1.4, "clip": true},
   "encoding": {
    "x": {"field": "t", "type": "quantitative", "scale": {"domain": [0, 38.55], "nice": false, "zero": false}, "axis": {"orient": "bottom", "values": [0,5,10,15,20,25,30,35], "labels": true, "labelPadding": 5, "tickSize": 5, "grid": true, "format": "d", "title": "Time (s)", "titleFontSize": 19, "titlePadding": 12}},
    "y": {"field": "v3", "type": "quantitative", "scale": {"domain": [-0.226, 0.226], "nice": false}, "axis": {"orient": "left", "values": [-0.2,0,0.2], "tickSize": 4, "grid": false, "format": ".2~f", "title": null}}}}
 ],
 "resolve": {"axis": {"x": "independent", "y": "independent"}}
}
 ]}
]
}
],
"config": {
 "font": "Liberation Sans",
 "locale": {"number": {"decimal": ".", "thousands": ",", "grouping": [3], "currency": ["$", ""], "minus": "-"}},
 "view": {"stroke": "#7a7a7a", "strokeWidth": 1},
 "axis": {"labelFont": "Liberation Sans", "labelFontSize": 11, "labelColor": "#444444", "titleFont": "Liberation Sans", "titleFontSize": 18, "titleFontWeight": "normal", "titleColor": "#333333", "domainColor": "#555555", "tickColor": "#555555", "gridColor": "#e3e3e3", "labelPadding": 3},
 "legend": {"symbolType": "stroke", "symbolStrokeWidth": 2.5, "symbolSize": 1296, "clipHeight": 19, "labelFont": "Liberation Sans", "labelFontSize": 14, "labelColor": "#000000", "strokeColor": "#888888", "fillColor": "#ffffff", "padding": 3, "rowPadding": 0, "labelOffset": 4}
}
}
